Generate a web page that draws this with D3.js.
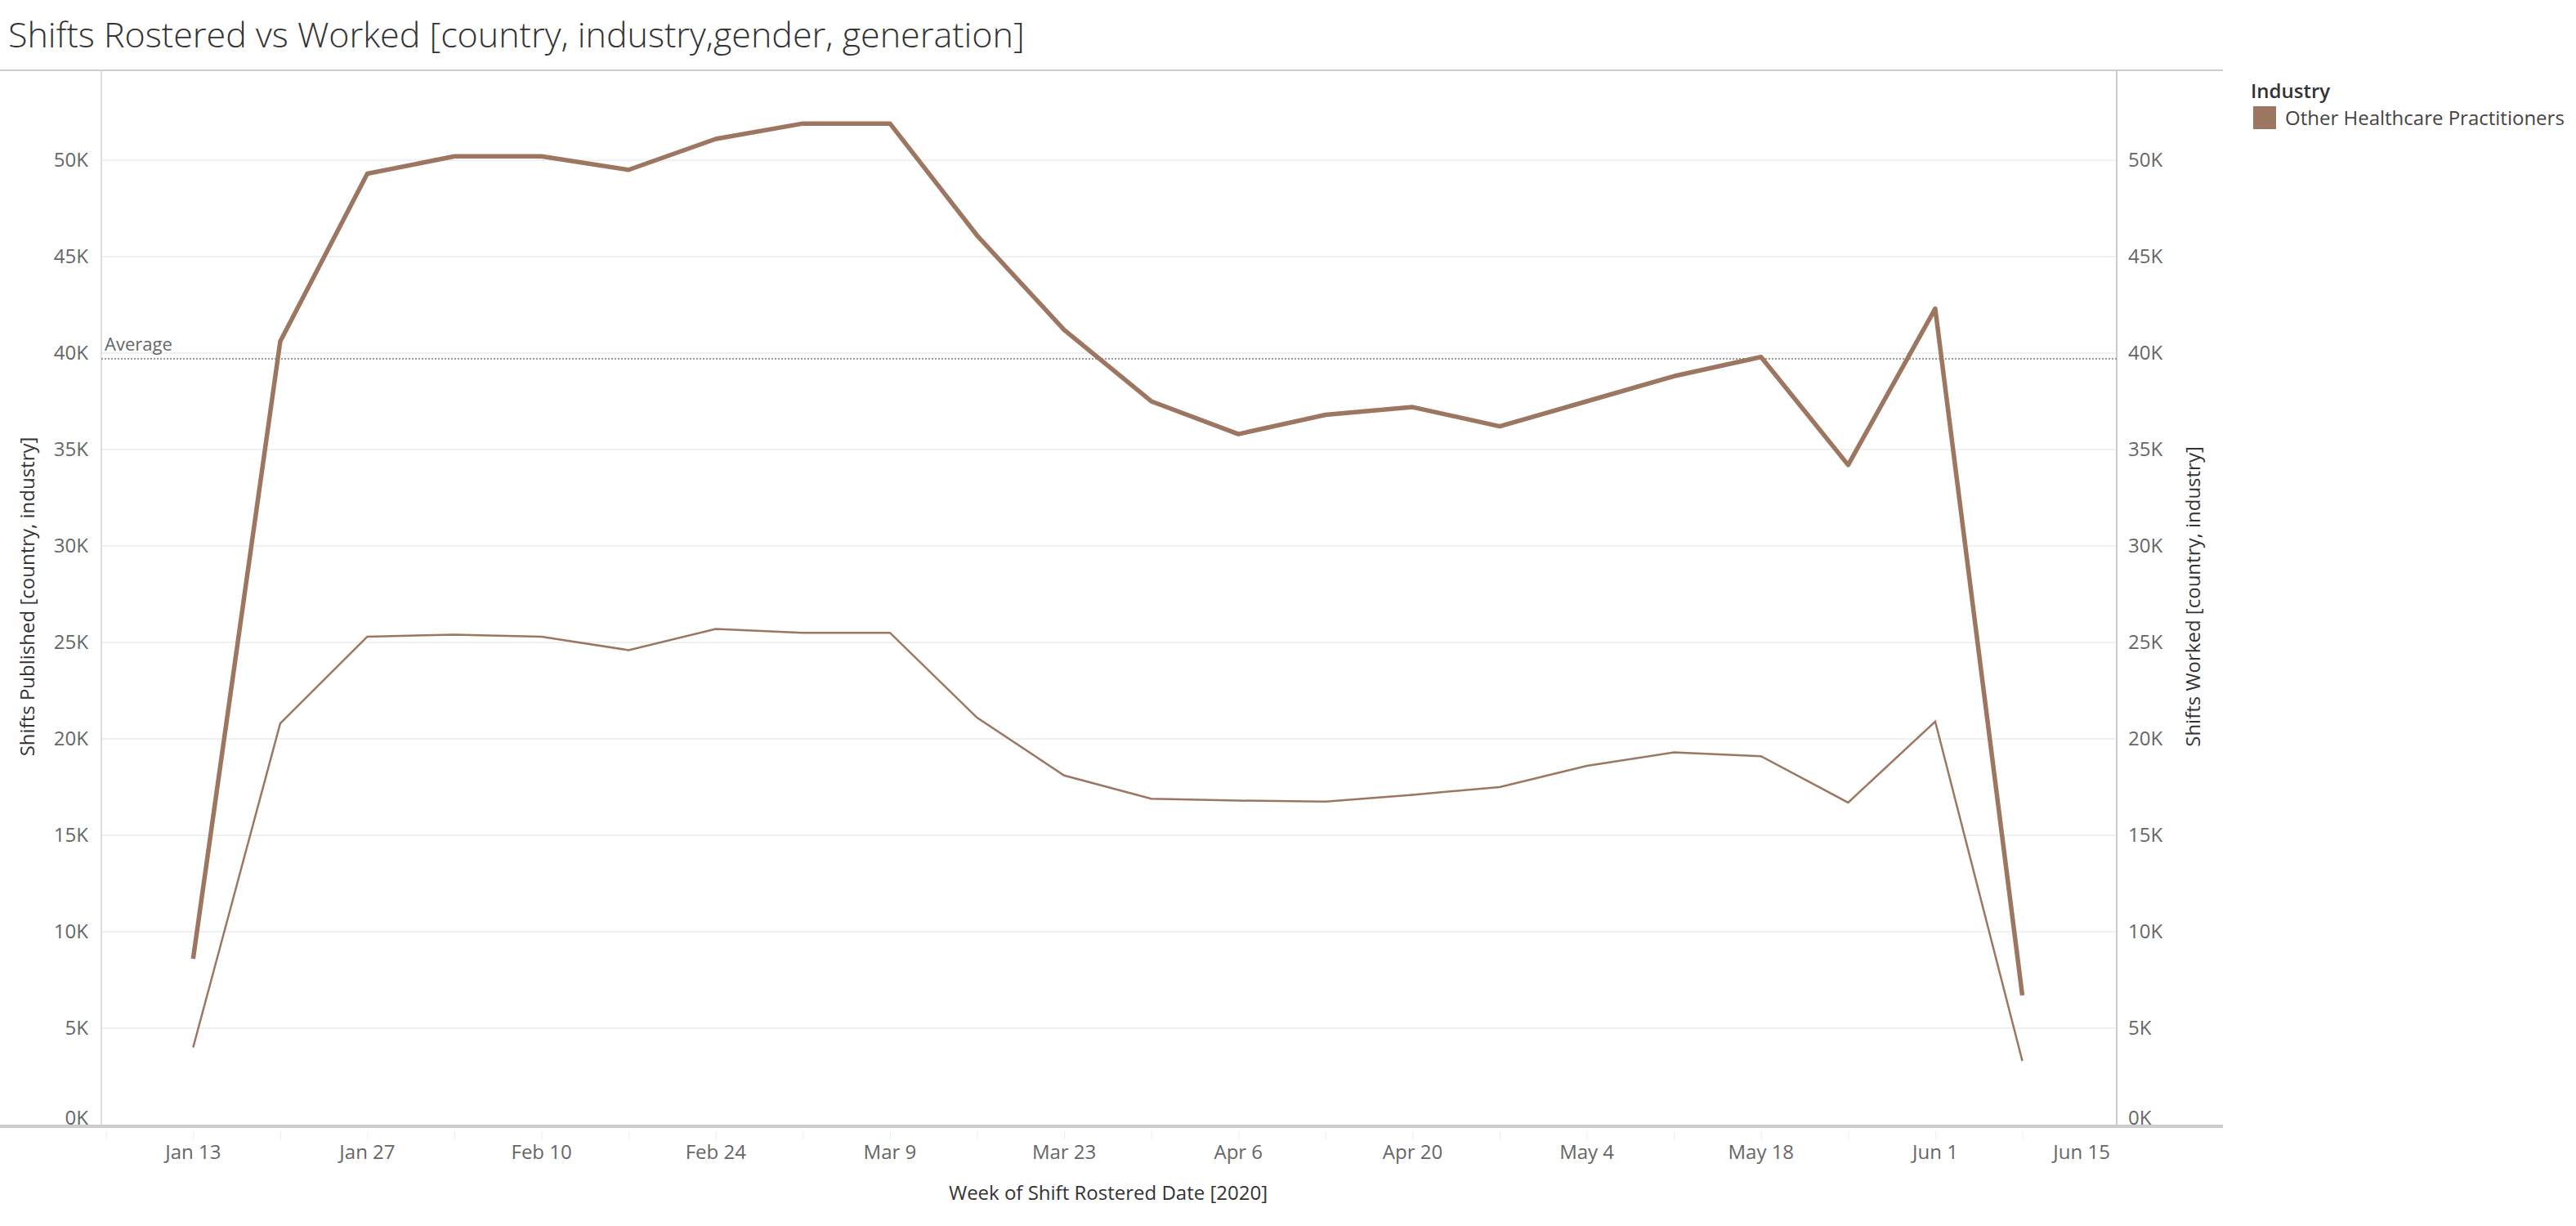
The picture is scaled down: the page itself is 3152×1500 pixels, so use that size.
<!DOCTYPE html>
<html><head><meta charset="utf-8">
<script src="https://cdn.jsdelivr.net/npm/d3@7"></script>
<style>body{margin:0;background:#fff;font-family:"Open Sans","Noto Sans",sans-serif}</style>
</head><body><svg id="c" width="3152" height="1500"></svg>
<script>
const weeks = ["2020-01-13","2020-01-20","2020-01-27","2020-02-03","2020-02-10","2020-02-17","2020-02-24","2020-03-02","2020-03-09","2020-03-16","2020-03-23","2020-03-30","2020-04-06","2020-04-13","2020-04-20","2020-04-27","2020-05-04","2020-05-11","2020-05-18","2020-05-25","2020-06-01","2020-06-08"];
const published = [8600,40600,49300,50200,50200,49500,51100,51900,51900,46100,41200,37500,35800,36800,37200,36200,37500,38800,39800,34200,42300,6700];
const worked = [4000,20800,25300,25400,25300,24600,25700,25500,25500,21100,18100,16900,16800,16750,17100,17500,18600,19300,19100,16700,20900,3300];
const yTicks = [0,5000,10000,15000,20000,25000,30000,35000,40000,45000,50000];
const xTickDates = ["2020-01-13","2020-01-27","2020-02-10","2020-02-24","2020-03-09","2020-03-23","2020-04-06","2020-04-20","2020-05-04","2020-05-18","2020-06-01","2020-06-15"];
const industry = "Other Healthcare Practitioners";
const color = "#9c7660";

const svg = d3.select("#c");
const L=124,R=2590,T=86,B=1376;
const parse=d3.timeParse("%Y-%m-%d");
const x=d3.scaleTime().domain([new Date(2020,0,5,15),new Date(2020,5,15,14)]).range([L,R]);
const y=d3.scaleLinear().domain([0,54660]).range([B,T]);
const fmt=d=>(d/1000)+"K";

svg.append("text").attr("x",10).attr("y",58).attr("font-size",43).attr("font-weight",300).attr("fill","#333").text("Shifts Rostered vs Worked [country, industry,gender, generation]");
svg.append("line").attr("x1",0).attr("x2",2720).attr("y1",T).attr("y2",T).attr("stroke","#ccc").attr("stroke-width",2);

svg.append("g").selectAll("line").data(yTicks.filter(d=>d>0)).join("line")
 .attr("x1",L).attr("x2",R).attr("y1",d=>y(d)).attr("y2",d=>y(d)).attr("stroke","#f0f0f0").attr("stroke-width",2);

const ga=svg.append("g").attr("font-size",24).attr("fill","#666");
ga.selectAll(".l").data(yTicks).join("text").attr("x",108).attr("y",d=>y(d)-(d===0?8:0)).attr("dy","0.35em").attr("text-anchor","end").attr("fill","#666").text(fmt);
ga.selectAll(".r").data(yTicks).join("text").attr("x",2604).attr("y",d=>y(d)-(d===0?8:0)).attr("dy","0.35em").attr("fill","#666").text(fmt);
svg.append("line").attr("x1",L).attr("x2",L).attr("y1",T).attr("y2",B).attr("stroke","#ddd").attr("stroke-width",2);
svg.append("line").attr("x1",R).attr("x2",R).attr("y1",T).attr("y2",B).attr("stroke","#ccc").attr("stroke-width",2);
svg.append("line").attr("x1",0).attr("x2",2720).attr("y1",B+2).attr("y2",B+2).attr("stroke","#ccc").attr("stroke-width",4);

const xAxis=d3.axisBottom(x).tickValues(d3.timeMonday.range(new Date(2020,0,6),new Date(2020,5,15))).tickFormat("").tickSize(10);
const gx=svg.append("g").attr("transform",`translate(0,${B+8})`).call(xAxis);
gx.select(".domain").remove();gx.selectAll("line").attr("stroke","#eee");
svg.append("g").selectAll("text").data(xTickDates).join("text").attr("x",(d,i)=>x(parse(d))-(i===xTickDates.length-1?34:0)).attr("y",1418)
 .attr("text-anchor","middle").attr("font-size",24).attr("fill","#666").text(d=>d3.timeFormat("%b %-d")(parse(d)));

svg.append("text").attr("x",1356).attr("y",1468).attr("text-anchor","middle").attr("font-size",24).attr("fill","#333").text("Week of Shift Rostered Date [2020]");
svg.append("text").attr("transform","translate(42,730) rotate(-90)").attr("text-anchor","middle").attr("font-size",24).attr("fill","#333").text("Shifts Published [country, industry]");
svg.append("text").attr("transform","translate(2692,730) rotate(-90)").attr("text-anchor","middle").attr("font-size",24).attr("fill","#333").text("Shifts Worked [country, industry]");

const avg=d3.mean(published);
svg.append("line").attr("x1",L).attr("x2",R).attr("y1",y(avg)).attr("y2",y(avg)).attr("stroke","#999").attr("stroke-width",2).attr("stroke-dasharray","2,2");
svg.append("text").attr("x",128).attr("y",y(avg)-10).attr("font-size",22).attr("fill","#666").text("Average");

const line=d3.line().x((d,i)=>x(parse(weeks[i]))).y(d=>y(d));
svg.append("path").attr("d",line(worked)).attr("fill","none").attr("stroke",color).attr("stroke-width",2.5);
svg.append("path").attr("d",line(published)).attr("fill","none").attr("stroke",color).attr("stroke-width",5.5).attr("stroke-linejoin","round");

svg.append("text").attr("x",2754).attr("y",120).attr("font-size",24).attr("font-weight",600).attr("fill","#333").text("Industry");
svg.append("rect").attr("x",2757).attr("y",130).attr("width",28).attr("height",28).attr("fill",color);
svg.append("text").attr("x",2796).attr("y",153).attr("font-size",24).attr("fill","#444").text(industry);
</script></body></html>
